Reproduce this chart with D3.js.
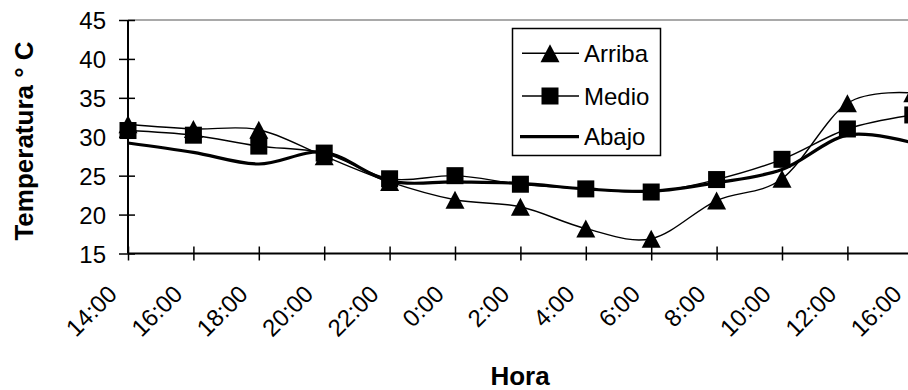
<!DOCTYPE html>
<html><head><meta charset="utf-8">
<script src="https://cdn.jsdelivr.net/npm/d3@7"></script>
<style>
html,body{margin:0;padding:0;background:#fff;}
svg{display:block;}
text{font-family:"Liberation Sans",Arial,sans-serif;fill:#000;}
</style></head>
<body>
<svg id="chart" width="908" height="390"></svg>
<script>
const hours = ["14:00","16:00","18:00","20:00","22:00","0:00","2:00","4:00","6:00","8:00","10:00","12:00","16:00"];
const arriba = [31.6, 31.0, 30.9, 27.5, 24.2, 21.9, 21.0, 18.2, 16.9, 21.8, 24.6, 34.3, 35.6];
const medio  = [30.8, 30.2, 28.8, 27.9, 24.6, 25.0, 23.9, 23.3, 22.9, 24.5, 27.1, 31.0, 32.8];
const abajo  = [29.2, 28.0, 26.5, 28.0, 24.3, 24.2, 24.0, 23.3, 23.0, 24.1, 25.8, 30.2, 29.2];
const yTicks = [15, 20, 25, 30, 35, 40, 45];
const seriesNames = ["Arriba", "Medio", "Abajo"];

const svg = d3.select("#chart");
const idx = hours.map((_, i) => i);
const x = d3.scalePoint().domain(idx).range([128, 912.8]);
const y = d3.scaleLinear().domain([15, 45]).range([253.5, 20]);

// top border line (gray)
svg.append("line").attr("x1", 128).attr("x2", 908)
  .attr("y1", y(45)).attr("y2", y(45))
  .attr("stroke", "#8c8c8c").attr("stroke-width", 1.5);

// Y axis
const gy = svg.append("g").attr("transform", "translate(128,0)")
  .call(d3.axisLeft(y).tickValues(yTicks).tickSize(9).tickPadding(13));
gy.select(".domain").attr("stroke", "#000").attr("stroke-width", 2).attr("d", `M0,${y(45)}V${y(15)}`);
gy.selectAll(".tick line").attr("x1", 7).attr("x2", -9).attr("stroke", "#000").attr("stroke-width", 1.5);
gy.selectAll(".tick text").attr("font-size", 24).attr("dy", "0.36em")
  .style("font-family", "'Liberation Sans', Arial, sans-serif");

// X axis
const gx = svg.append("g").attr("transform", `translate(0,${y(15)})`)
  .call(d3.axisBottom(x).tickFormat(i => hours[i]).tickSize(6));
gx.select(".domain").attr("stroke", "#000").attr("stroke-width", 2).attr("d", `M128,0H908`);
gx.selectAll(".tick line").attr("y1", -7).attr("y2", 7).attr("stroke", "#000").attr("stroke-width", 1.5);
gx.selectAll(".tick text")
  .attr("font-size", 24)
  .attr("text-anchor", "end")
  .attr("x", 0).attr("y", 0).attr("dy", 0)
  .attr("transform", "translate(-10,42) rotate(-45)")
  .style("font-family", "'Liberation Sans', Arial, sans-serif");

// lines
const line = d3.line().x((d, i) => x(i)).y(d => y(d)).curve(d3.curveCatmullRom.alpha(0));
svg.append("path").datum(arriba).attr("d", line).attr("fill", "none").attr("stroke", "#000").attr("stroke-width", 1.4);
svg.append("path").datum(medio).attr("d", line).attr("fill", "none").attr("stroke", "#000").attr("stroke-width", 1.4);
svg.append("path").datum(abajo).attr("d", line).attr("fill", "none").attr("stroke", "#000").attr("stroke-width", 3.2);

const triW = 19, triH = 18, sq = 17;
const triPath = `M0,${-triH/2}L${triW/2},${triH/2}L${-triW/2},${triH/2}Z`;

svg.append("g").selectAll("path").data(arriba).join("path")
  .attr("d", triPath).attr("fill", "#000")
  .attr("transform", (d, i) => `translate(${x(i)},${y(d)})`);
svg.append("g").selectAll("rect").data(medio).join("rect")
  .attr("x", (d, i) => x(i) - sq/2).attr("y", d => y(d) - sq/2)
  .attr("width", sq).attr("height", sq).attr("fill", "#000");

// legend
const lg = svg.append("g");
lg.append("rect").attr("x", 512.5).attr("y", 28.5).attr("width", 148).attr("height", 127)
  .attr("fill", "#fff").attr("stroke", "#000").attr("stroke-width", 1.5);
const rowsY = [53.3, 96, 136.7];
seriesNames.forEach((name, k) => {
  const ry = rowsY[k];
  lg.append("line").attr("x1", k === 2 ? 520 : 522).attr("x2", 579).attr("y1", ry).attr("y2", ry)
    .attr("stroke", "#000").attr("stroke-width", k === 2 ? 3.2 : 1.4);
  if (k === 0) lg.append("path").attr("d", triPath).attr("transform", `translate(550,${ry})`).attr("fill", "#000");
  if (k === 1) lg.append("rect").attr("x", 550 - sq/2).attr("y", ry - sq/2).attr("width", sq).attr("height", sq).attr("fill", "#000");
  lg.append("text").attr("x", 584).attr("y", ry + 8.6).attr("font-size", 24).text(name);
});

// axis titles
svg.append("text").attr("transform", "translate(33,141) rotate(-90)")
  .attr("text-anchor", "middle").attr("font-size", 26).attr("font-weight", "bold")
  .text("Temperatura ° C");
svg.append("text").attr("x", 520).attr("y", 385)
  .attr("text-anchor", "middle").attr("font-size", 26).attr("font-weight", "bold")
  .text("Hora");
</script>
</body></html>
